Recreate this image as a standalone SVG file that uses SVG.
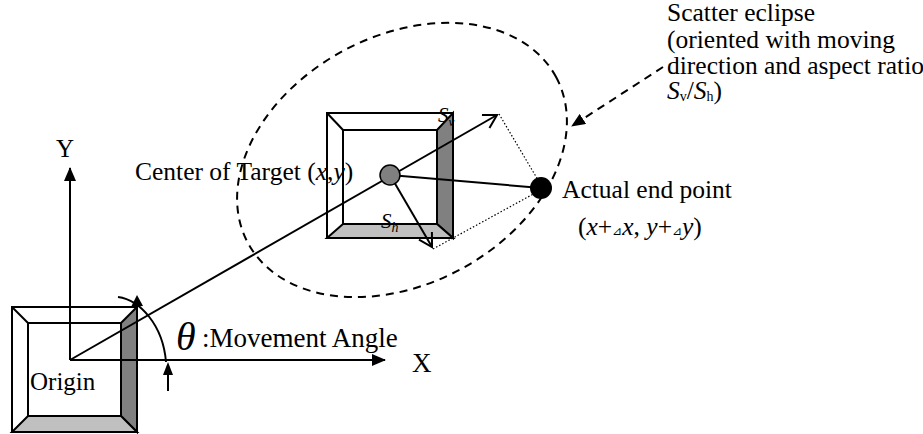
<svg xmlns="http://www.w3.org/2000/svg" width="923" height="434" viewBox="0 0 923 434">
<style>
.t{font-family:'Liberation Serif','Times New Roman',Tinos,serif;fill:#000}
.it{font-style:italic}
.box{fill:#fff;stroke:#000;stroke-width:2}
.bev{stroke:#000;stroke-width:2;stroke-linejoin:miter}
.dark{fill:#808080}
.light{fill:#c0c0c0}
.ln{stroke:#000;stroke-width:2;fill:none}
.dash{stroke:#000;stroke-width:2;fill:none;stroke-dasharray:8 6}
.dot{stroke:#000;stroke-width:1.2;fill:none;stroke-dasharray:1.5 2}
</style>
<defs>
<marker id="fill" viewBox="0 0 14 12" refX="13" refY="6" markerWidth="14" markerHeight="12" markerUnits="userSpaceOnUse" orient="auto">
<path d="M0,0 L14,6 L0,12 Z" fill="#000"/>
</marker>
<marker id="open" viewBox="-16 -9 18 18" refX="0" refY="0" markerWidth="18" markerHeight="18" markerUnits="userSpaceOnUse" orient="auto">
<path d="M-13,-7.5 L0,0 L-13,7.5" fill="none" stroke="#000" stroke-width="2"/>
</marker>
</defs>

<g id="origin-box">
<rect class="box" x="12" y="307" width="125" height="125"/>
<polygon class="bev dark" points="121,323 137,307 137,432 121,416"/>
<polygon class="bev light" points="12,432 28,416 121,416 137,432"/>
<line class="ln" x1="12" y1="307" x2="28" y2="323"/>
<rect x="28" y="323" width="93" height="93" style="fill:none;stroke:#000;stroke-width:2"/>
<text class="t" font-family="Liberation Serif, serif" x="30" y="390" font-size="25">Origin</text>
</g>

<g id="target-box">
<rect class="box" x="327" y="113" width="126" height="125"/>
<polygon class="bev dark" points="437,130 453,113 453,238 437,224"/>
<polygon class="bev light" points="327,238 343,224 437,224 453,238"/>
<line class="ln" x1="327" y1="113" x2="343" y2="130"/>
<rect x="343" y="130" width="94" height="94" style="fill:none;stroke:#000;stroke-width:2"/>
</g>

<g id="scatter-ellipse">
<ellipse class="dash" cx="402" cy="160" rx="175" ry="124" transform="rotate(-28.3 402 160)"/>
</g>

<g id="connectors">
<line class="ln" x1="70" y1="360" x2="70" y2="168" marker-end="url(#fill)"/>
<line class="ln" x1="70" y1="360" x2="385" y2="360" marker-end="url(#fill)"/>
<line class="ln" x1="70" y1="360" x2="497" y2="115" stroke-width="2.4" marker-end="url(#open)"/>
<line class="ln" x1="390" y1="175" x2="432" y2="247" marker-end="url(#open)"/>
<line class="ln" x1="390" y1="175" x2="541" y2="188" stroke-width="2.4"/>
<line class="dot" x1="499" y1="114" x2="538" y2="180"/>
<line class="dot" x1="433" y1="249" x2="537" y2="192"/>
<line class="dash" x1="663" y1="67" x2="572" y2="126" marker-end="url(#fill)"/>
<path class="ln" d="M118,297 C140,300 163,325 166,362"/>
<polygon points="137,295 131,307 143,306" fill="#000"/>
<line class="ln" x1="168" y1="391" x2="168" y2="372"/>
<polygon points="168,362 163,375 173,375" fill="#000"/>
</g>

<g id="target-center">
<circle cx="390" cy="175" r="10" fill="#808080" stroke="#000" stroke-width="1.5"/>
</g>

<g id="end-point">
<circle cx="541" cy="188" r="11" fill="#000"/>
</g>

<g id="labels" font-family="Liberation Serif, serif">
<text class="t" x="56" y="157" font-size="25">Y</text>
<text class="t" x="412" y="372" font-size="27">X</text>
<text class="t it" x="176" y="350" font-size="40">θ</text>
<text class="t" x="202" y="347" font-size="27">:Movement Angle</text>
<text class="t" x="135" y="180" font-size="25.5">Center of Target (<tspan class="it">x</tspan>,<tspan class="it">y</tspan>)</text>
<text class="t it" x="438" y="122" font-size="21">S<tspan font-size="13" dy="4">v</tspan></text>
<text class="t it" x="381" y="228" font-size="21">S<tspan font-size="14" dy="4">h</tspan></text>
<text class="t" x="562" y="198" font-size="25.5">Actual end point</text>
<text class="t" x="578" y="235" font-size="25.5">(<tspan class="it">x</tspan>+<tspan font-size="12">⊿</tspan><tspan class="it">x</tspan>, <tspan class="it">y</tspan>+<tspan font-size="12">⊿</tspan><tspan class="it">y</tspan>)</text>
<text class="t" x="667" y="21" font-size="25.5">Scatter eclipse</text>
<text class="t" x="667" y="48" font-size="25.5">(oriented with moving</text>
<text class="t" x="667" y="74" font-size="25.5">direction and aspect ratio</text>
<text class="t" x="667" y="99" font-size="25.5"><tspan class="it">S</tspan><tspan font-size="14" dy="2">v</tspan><tspan dy="-2">/</tspan><tspan class="it">S</tspan><tspan font-size="14" dy="2">h</tspan><tspan dy="-2">)</tspan></text>
</g>
</svg>
